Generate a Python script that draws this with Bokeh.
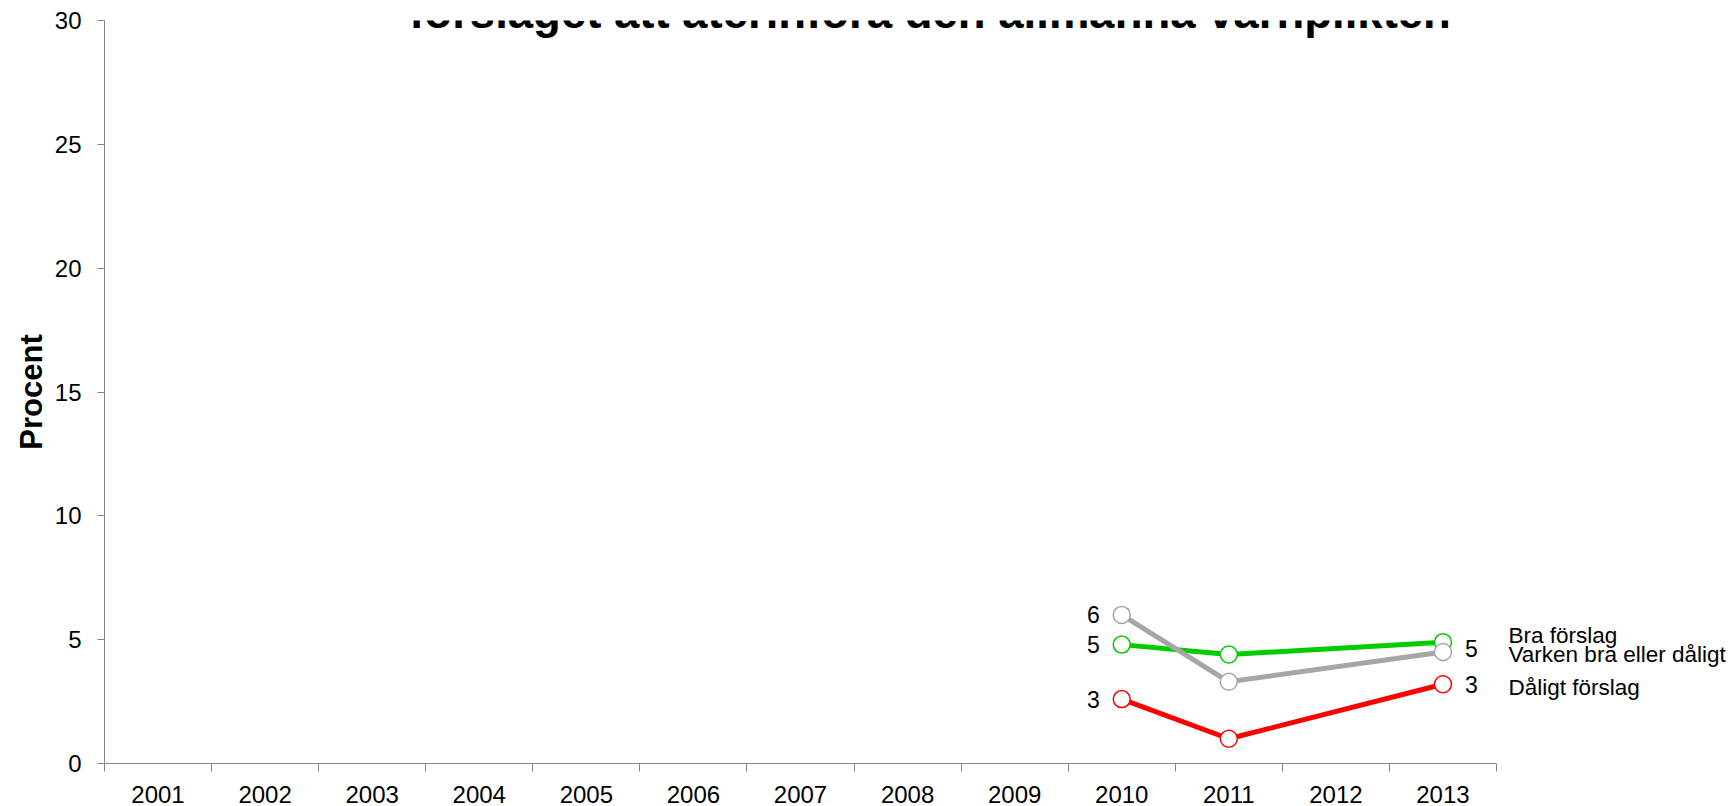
from bokeh.plotting import figure
from bokeh.models import Range1d, FixedTicker, ColumnDataSource, Label
from bokeh.core.properties import value
from bokeh.embed import file_html
from bokeh.resources import INLINE

# ---- data ----
years = ["2001", "2002", "2003", "2004", "2005", "2006", "2007",
         "2008", "2009", "2010", "2011", "2012", "2013"]
survey_years = ["2010", "2011", "2013"]
series_names = ["Bra förslag", "Varken bra eller dåligt", "Dåligt förslag"]
bra = [4.8, 4.4, 4.9]
varken = [6.0, 3.3, 4.5]
daligt = [2.6, 1.0, 3.2]
bra_labels = ["5", "", ""]
varken_labels = ["6", "", "5"]
daligt_labels = ["3", "", "3"]
colors = ["#00CC00", "#A6A6A6", "#FF0000"]
y_ticks = [0, 5, 10, 15, 20, 25, 30]
title_text = "förslaget att återinföra den allmänna värnplikten"
y_title = "Procent"

FONT = "Liberation Sans"
AXIS_COL = "#868686"
FRAME_H = 743
AXIS_W = 1392          # pixel length of the category axis
FRAME_W = 1630         # plot area incl. room for the series names
YMAX = 30
NCAT = len(years)
PPU = FRAME_H / YMAX   # pixels per data unit on the y axis
PPX = AXIS_W / NCAT    # pixels per category

xpos = {y: i + 0.5 for i, y in enumerate(years)}
sx = [xpos[y] for y in survey_years]

p = figure(frame_width=FRAME_W, frame_height=FRAME_H,
           x_range=Range1d(0, FRAME_W / PPX), y_range=Range1d(0, YMAX),
           output_backend="svg", toolbar_location=None,
           min_border_left=104, min_border_top=20, min_border_right=0,
           min_border_bottom=10)
p.background_fill_color = "white"
p.border_fill_color = "white"
p.outline_line_color = None
p.xgrid.visible = False
p.ygrid.visible = False

# x axis: labels at category centers, ticks at category boundaries
xa = p.xaxis[0]
xa.bounds = (0, NCAT)
xa.ticker = FixedTicker(ticks=[xpos[y] for y in years],
                        minor_ticks=list(range(NCAT + 1)))
xa.major_label_overrides = {xpos[y]: y for y in years}
xa.major_tick_out = 0
xa.major_tick_in = 0
xa.minor_tick_out = 8
xa.minor_tick_in = 0
xa.minor_tick_line_color = AXIS_COL
xa.axis_line_color = AXIS_COL
xa.major_label_text_font = FONT
xa.major_label_text_font_size = "24px"
xa.major_label_text_color = "black"
xa.major_label_standoff = 14

ya = p.yaxis[0]
ya.ticker = FixedTicker(ticks=y_ticks)
ya.major_tick_out = 7
ya.major_tick_in = 0
ya.minor_tick_out = 0
ya.minor_tick_in = 0
ya.major_tick_line_color = AXIS_COL
ya.axis_line_color = AXIS_COL
ya.major_label_text_font = FONT
ya.major_label_text_font_size = "24px"
ya.major_label_text_color = "black"
ya.major_label_standoff = 16
ya.axis_label = y_title
ya.axis_label_text_font = FONT
ya.axis_label_text_font_size = "31px"
ya.axis_label_text_font_style = "bold"
ya.axis_label_text_color = "black"
ya.axis_label_standoff = 3

all_series = [bra, varken, daligt]
all_labels = [bra_labels, varken_labels, daligt_labels]

for vals, col in zip(all_series, colors):
    p.line(sx, vals, line_color=col, line_width=5)
for vals, col in zip(all_series, colors):
    p.scatter(sx, vals, size=17, marker="circle", fill_color="white",
              line_color=col, line_width=1.5)

# value labels
lx, ly, lt, la, lxo, lyo = [], [], [], [], [], []
for vals, labs in zip(all_series, all_labels):
    for i, (v, t) in enumerate(zip(vals, labs)):
        if not t:
            continue
        lx.append(sx[i]); ly.append(v); lt.append(t)
        if i == 0:
            la.append("right"); lxo.append(-22); lyo.append(0)
        else:
            la.append("left"); lxo.append(22); lyo.append(-4 if t == "5" else 0)
src = ColumnDataSource(dict(x=lx, y=ly, t=lt, a=la, xo=lxo, yo=lyo))
p.text(x="x", y="y", text="t", text_align="a", x_offset="xo", y_offset="yo",
       text_baseline="middle", text_font=value(FONT), text_font_size="23px",
       text_color="black", source=src)

# series names at the right of the category axis (pixel shifts avoid overlap)
name_shift_px = [-7, 2, 3]
nsrc = ColumnDataSource(dict(x=[NCAT] * 3, y=[s[-1] for s in all_series],
                             t=series_names, yo=name_shift_px))
p.text(x="x", y="y", text="t", x_offset=12, y_offset="yo", text_align="left",
       text_baseline="middle", text_font=value(FONT), text_font_size="22.5px",
       text_color="black", source=nsrc)

# title (top partly cut off, as in the reference)
p.add_layout(Label(x=7.71, y=YMAX + 8 / PPU, text=title_text, text_align="center",
                   text_baseline="alphabetic", text_font=FONT,
                   text_font_size="45.5px", text_font_style="bold",
                   text_color="black"))

open("out.html", "w").write(file_html(p, INLINE))
